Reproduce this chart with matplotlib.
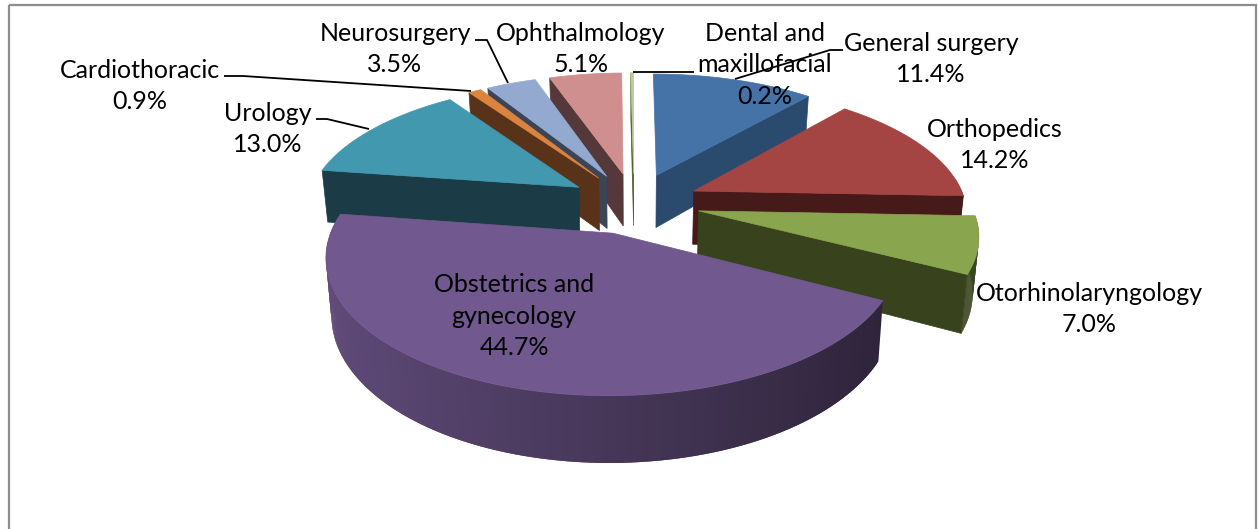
import numpy as np
import matplotlib
matplotlib.use("Agg")
import matplotlib.pyplot as plt
from matplotlib.patches import Polygon, Rectangle

# Surgery share per specialty, clockwise from 12 o'clock
specialties = ["General surgery", "Orthopedics", "Otorhinolaryngology",
               "Obstetrics and\ngynecology", "Urology", "Cardiothoracic",
               "Neurosurgery", "Ophthalmology", "Dental and\nmaxillofacial"]
shares = [11.4, 14.2, 7.0, 44.7, 13.0, 0.9, 3.5, 5.1, 0.2]

top_colors = ["#4572A7", "#A54543", "#89A54E", "#71588F", "#4198AF",
              "#DB843D", "#93A9CF", "#CF8F8E", "#B9CD96"]
wall_colors = ["#2A4A6E", "#451A18", "#38431D", "#5F4C7C", "#1B3C47",
               "#58331A", "#3C4457", "#55393A", "#4A5A2A"]

# Label centres in pixels
label_x = [931, 995, 1089, 514, 268, 140, 395, 581, 765]
label_y = [59, 145, 309, 316, 129, 86, 49, 49, 65]

# Leader lines in pixels (from the label towards its slice)
leaders = {
    "General surgery": ([843, 830, 735], [50, 50, 79]),
    "Urology": ([316, 327, 369], [119, 119, 129]),
    "Cardiothoracic": ([224, 243, 471], [76, 76, 91]),
    "Neurosurgery": ([475, 487, 508], [40, 40, 83]),
    "Dental and\nmaxillofacial": ([694, 633], [72, 72]),
}

# Pie geometry, camera is a simple perspective on the plane of the pie
cx, cy = 634, 203
radius = 272
squash = 0.462
persp = 0.16
depth = 54
taper = 0.018
explode = 0.243

# order slices are painted, far ones first
paint_order = [8, 7, 6, 5, 0, 1, 4, 2, 3]


def project(x, y, z=0.0):
    """Pie plane coordinates to pixels. z=0 is the top face, z=1 the bottom."""
    s = 1.0 / (1.0 + persp * y)
    return cx + radius * x * s * (1 - taper * z), cy - radius * squash * y * s + depth * z * s


def slice_outline(t0, t1, n=240):
    mid = (t0 + t1) / 2
    ox, oy = explode * np.sin(mid), explode * np.cos(mid)
    t = np.linspace(t0, t1, n)
    return ox, oy, t, ox + np.sin(t), oy + np.cos(t)


fig = plt.figure(figsize=(12.58, 5.29), dpi=100)
ax = fig.add_axes([0, 0, 1, 1])
ax.set_xlim(0, 1258)
ax.set_ylim(529, 0)
ax.axis("off")

ax.add_patch(Rectangle((9, 5), 1247, 540, fill=False, ec="#8C8C8C", lw=1.6))

edges = np.radians(np.concatenate([[0], np.cumsum(shares)]) * 3.6)

for rank, i in enumerate(paint_order):
    t0, t1 = edges[i], edges[i + 1]
    ox, oy, t, xs, ys = slice_outline(t0, t1)
    z = 2 + rank * 3

    # outer wall, strip by strip so the shade can change along it
    # each strip overlaps the next one, that keeps the seams from showing
    base = np.array(matplotlib.colors.to_rgb(top_colors[i]))
    for k in range(len(t) - 2):
        if np.cos(t[k + 1]) > 0.1:
            continue
        a = project(xs[k], ys[k])
        b = project(xs[k + 2], ys[k + 2])
        c = project(xs[k + 2], ys[k + 2], 1)
        d = project(xs[k], ys[k], 1)
        shade = 0.62 - 0.24 * np.sin(t[k + 1])
        if i == 2:
            shade = 0.42
        ax.add_patch(Polygon([a, b, c, d], fc=base * shade, ec="none", zorder=z))

    # radial walls that face the viewer
    if np.pi < t0 < 2 * np.pi:
        pts = [project(ox, oy), project(xs[0], ys[0]), project(xs[0], ys[0], 1), project(ox, oy, 1)]
        ax.add_patch(Polygon(pts, fc=wall_colors[i], ec=wall_colors[i], lw=0.5, zorder=z + 1))
    if 0 < t1 < np.pi:
        pts = [project(ox, oy), project(xs[-1], ys[-1]), project(xs[-1], ys[-1], 1), project(ox, oy, 1)]
        ax.add_patch(Polygon(pts, fc=wall_colors[i], ec=wall_colors[i], lw=0.5, zorder=z + 1))

    # top face
    px, py = project(np.append(xs, ox), np.append(ys, oy))
    ax.add_patch(Polygon(np.column_stack([px, py]), fc=top_colors[i], ec=top_colors[i], lw=0.5, zorder=z + 2))

for name, (lx, ly) in leaders.items():
    ax.plot(lx, ly, color="black", lw=1.3, zorder=40, solid_capstyle="butt")

for name, share, x, y in zip(specialties, shares, label_x, label_y):
    ax.text(x, y, f"{name}\n{share:.1f}%", ha="center", va="center", family="Lato",
            fontsize=18, linespacing=1.45, color="black", zorder=50)

fig.savefig("out.png", dpi=100)
